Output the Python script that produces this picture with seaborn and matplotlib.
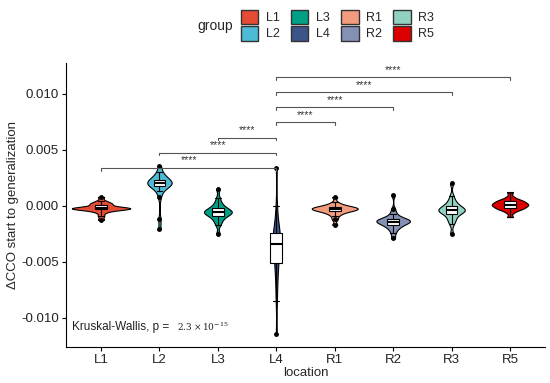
import numpy as np
import pandas as pd
import matplotlib
matplotlib.use("Agg")
import matplotlib.pyplot as plt
from matplotlib.patches import Patch
import seaborn as sns

# ---- data (percentiles 0,5,...,100) ----
locations = ["L1", "L2", "L3", "L4", "R1", "R2", "R3", "R5"]
colors = ["#E64B35", "#4DBBD5", "#00A087", "#3C5488",
          "#F39B7F", "#8491B4", "#91D1C2", "#DC0000"]

L1 = [-0.00125, -0.0009, -0.0006, -0.00045, -0.00035, -0.0003, -0.00028, -0.00026, -0.00024, -0.00022,
      -0.0002, -0.00018, -0.00016, -0.00013, -0.0001, 0.0001, 0.00015, 0.0002, 0.0003, 0.00045, 0.0008]
L2 = [-0.0021, -0.0012, 0.0008, 0.0013, 0.0016, 0.0018, 0.00185, 0.0019, 0.00195, 0.002,
      0.002, 0.00205, 0.0021, 0.0022, 0.00225, 0.0023, 0.0024, 0.0026, 0.0028, 0.003, 0.0036]
L3 = [-0.0025, -0.0017, -0.0014, -0.0012, -0.001, -0.0009, -0.0008, -0.0007, -0.00065, -0.0006,
      -0.00055, -0.0005, -0.00045, -0.0004, -0.0003, -0.0002, -0.0001, 0.0001, 0.0003, 0.0007, 0.0015]
L4 = [-0.0114, -0.0085, -0.0072, -0.0062, -0.0056, -0.0051, -0.0046, -0.0042, -0.0039, -0.0036,
      -0.0034, -0.0032, -0.003, -0.0028, -0.0026, -0.0024, -0.0021, -0.0017, -0.0011, 0.0, 0.0034]
R1 = [-0.0017, -0.0012, -0.0009, -0.0007, -0.0006, -0.0005, -0.00045, -0.0004, -0.00035, -0.0003,
      -0.0003, -0.00025, -0.0002, -0.00018, -0.00015, -0.0001, -0.00005, 0.00002, 0.0001, 0.0003, 0.0008]
R2 = [-0.0029, -0.0024, -0.0021, -0.0019, -0.0018, -0.0017, -0.0016, -0.0015, -0.00145, -0.0014,
      -0.0014, -0.00135, -0.0013, -0.00125, -0.0012, -0.0012, -0.0011, -0.0009, -0.0007, -0.0003, 0.001]
R3 = [-0.0025, -0.0016, -0.0013, -0.0011, -0.0009, -0.0007, -0.0006, -0.0005, -0.00045, -0.0004,
      -0.0004, -0.00035, -0.0003, -0.0002, -0.0001, 0.0, 0.0001, 0.0003, 0.0005, 0.0009, 0.002]
R5 = [-0.001, -0.0006, -0.0004, -0.0003, -0.00025, -0.0002, -0.0001, -0.00005, 0.0, 0.00005,
      0.0001, 0.00015, 0.0002, 0.00025, 0.0003, 0.0004, 0.00045, 0.0005, 0.0006, 0.0008, 0.0012]

comparisons = [("L1", "L4"), ("L2", "L4"), ("L3", "L4"), ("L4", "R1"),
               ("L4", "R2"), ("L4", "R3"), ("L4", "R5")]
sig_label = "****"
kw_label = "Kruskal-Wallis, p = "
kw_p = r"$2.3\times10^{-15}$"

series = [L1, L2, L3, L4, R1, R2, R3, R5]
df = pd.DataFrame({
    "location": np.repeat(locations, [len(s) for s in series]),
    "value": np.concatenate(series),
})
palette = dict(zip(locations, colors))

sns.set_style("ticks")
plt.rcParams["font.family"] = ["Liberation Sans", "DejaVu Sans"]
plt.rcParams["mathtext.fontset"] = "dejavuserif"

fig = plt.figure(figsize=(5.5, 3.83), dpi=100)
ax = fig.add_axes([0.12, 0.094, 0.871, 0.742])

sns.violinplot(data=df, x="location", y="value", hue="location", order=locations,
               hue_order=locations, palette=palette, density_norm="area",
               common_norm=True, cut=0, inner=None, linewidth=0.8,
               linecolor="black", width=1.0, bw_adjust=0.55, legend=False,
               ax=ax, saturation=1)
sns.boxplot(data=df, x="location", y="value", order=locations, width=0.2,
            color="white", linewidth=0.8, linecolor="black", fliersize=2.5,
            flierprops=dict(marker="o", markerfacecolor="black", markeredgecolor="black"),
            medianprops=dict(linewidth=1.5, color="black"), ax=ax, saturation=1)

# significance brackets
base, step, tip = 0.0034, 0.00135, 0.00025
pos = {loc: i for i, loc in enumerate(locations)}
for k, (a, b) in enumerate(comparisons):
    y = base + k * step
    x1, x2 = pos[a], pos[b]
    ax.plot([x1, x1, x2, x2], [y - tip, y, y, y - tip], color="#555555", lw=0.8)
    ax.text((x1 + x2) / 2, y + 0.0002, sig_label, ha="center", va="bottom",
            fontsize=7.5, color="#333333")

t1 = ax.text(-0.5, -0.0108, kw_label, ha="left", va="center", fontsize=8.5,
             color="#222222")
ax.annotate(kw_p, xy=(1, 0.5), xycoords=t1, xytext=(3, 0), textcoords="offset points",
            ha="left", va="center", fontsize=6.5, color="#222222")

ax.set_xlim(-0.6, 7.6)
ax.set_ylim(-0.0126, 0.01277)
ax.set_yticks([-0.010, -0.005, 0.0, 0.005, 0.010])
ax.set_yticklabels(["-0.010", "-0.005", "0.000", "0.005", "0.010"])
ax.set_xlabel("location", fontsize=9.5, labelpad=1)
ax.set_ylabel("\u0394CCO start to generalization", fontsize=9.5, labelpad=2)
ax.tick_params(axis="both", labelsize=9.5, length=3, width=0.8, pad=2,
               color="black", labelcolor="#222222")
for s in ["top", "right"]:
    ax.spines[s].set_visible(False)
for s in ["left", "bottom"]:
    ax.spines[s].set_color("black")
    ax.spines[s].set_linewidth(0.8)

handles = [Patch(facecolor=c, edgecolor="#333333", linewidth=1.0, label=l)
           for l, c in zip(locations, colors)]
fig.legend(handles=handles, ncol=4, loc="upper left",
           bbox_to_anchor=(232 / 550, 1 - 1 / 383), frameon=False, fontsize=9,
           handlelength=1.4, handleheight=1.4, handletextpad=0.6,
           columnspacing=0.9, labelspacing=0.15, borderpad=0.2)
fig.text(215 / 550, 1 - 26 / 383, "group", ha="center", va="center", fontsize=10)

fig.savefig("out.png", dpi=100)
